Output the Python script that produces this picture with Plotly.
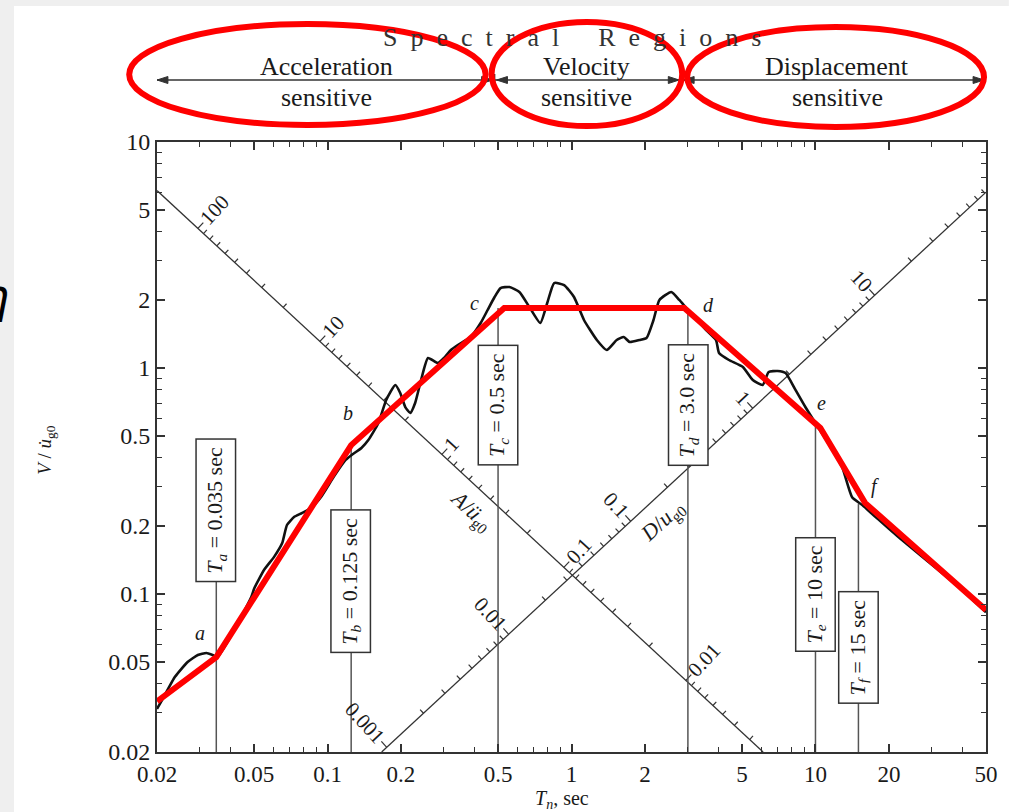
import numpy as np
import plotly.graph_objects as go

# ---------------- data ----------------
T_spec = [0.020, 0.021, 0.0237, 0.0267, 0.0294, 0.0319, 0.0338, 0.0354, 0.0415, 0.0487,
          0.0501, 0.055, 0.0604, 0.0652, 0.0682, 0.0729, 0.0785, 0.0855, 0.0939, 0.106,
          0.1186, 0.1255, 0.1377, 0.147, 0.1616, 0.174, 0.1896, 0.1986, 0.2083, 0.2183,
          0.2286, 0.2418, 0.2582, 0.2836, 0.3027, 0.3204, 0.342, 0.386, 0.4243, 0.4531,
          0.4839, 0.5119, 0.5568, 0.6115, 0.6717, 0.7447, 0.7953, 0.849, 0.9326, 1.024,
          1.125, 1.270, 1.395, 1.532, 1.637, 1.731, 1.901, 2.030, 2.168, 2.293,
          2.565, 2.766, 2.953, 3.563, 3.912, 4.024, 4.418, 5.039, 5.534, 6.077,
          6.43, 6.996, 7.54, 8.28, 9.09, 9.99, 11.28, 12.86, 14.13, 15.51,
          18, 22, 27, 33, 40, 50]
V_spec = [0.031, 0.034, 0.043, 0.050, 0.0537, 0.0548, 0.0537, 0.0526, 0.0693, 0.097,
          0.106, 0.128, 0.146, 0.168, 0.202, 0.219, 0.228, 0.240, 0.268, 0.330,
          0.392, 0.412, 0.443, 0.480, 0.571, 0.722, 0.841, 0.775, 0.672, 0.632,
          0.700, 0.885, 1.107, 1.052, 1.118, 1.201, 1.264, 1.371, 1.581, 1.806,
          2.062, 2.259, 2.282, 2.169, 1.862, 1.581, 1.939, 2.377, 2.329, 2.062,
          1.631, 1.330, 1.201, 1.330, 1.371, 1.303, 1.330, 1.357, 1.631, 2.000,
          2.169, 2.000, 1.843, 1.472, 1.330, 1.165, 1.085, 1.010, 0.885, 0.841,
          0.960, 0.970, 0.950, 0.800, 0.672, 0.571, 0.466, 0.365, 0.268, 0.248,
          0.215, 0.178, 0.148, 0.124, 0.104, 0.083]

T_ideal = [0.02, 0.035, 0.125, 0.53, 2.9, 10.47, 15.96, 50]
V_ideal = [0.0335, 0.0526, 0.456, 1.843, 1.843, 0.543, 0.253, 0.085]

x_ticks = [0.02, 0.05, 0.1, 0.2, 0.5, 1, 2, 5, 10, 20, 50]
x_ticktext = ["0.02", "0.05", "0.1", "0.2", "0.5", "1", "2", "5", "10", "20", "50"]
x_minor = [0.03, 0.04, 0.06, 0.07, 0.08, 0.09, 0.3, 0.4, 0.6, 0.7, 0.8, 0.9,
           3, 4, 6, 7, 8, 9, 30, 40]
y_ticks = [0.02, 0.05, 0.1, 0.2, 0.5, 1, 2, 5, 10]
y_ticktext = ["0.02", "0.05", "0.1", "0.2", "0.5", "1", "2", "5", "10"]
y_minor = [0.03, 0.04, 0.06, 0.07, 0.08, 0.09, 0.3, 0.4, 0.6, 0.7, 0.8, 0.9,
           3, 4, 6, 7, 8, 9]

# characteristic periods
T_marks = [0.035, 0.125, 0.5, 3.0, 10, 15]
T_mark_sub = ["a", "b", "c", "d", "e", "f"]
T_mark_val = ["0.035", "0.125", "0.5", "3.0", "10", "15"]
T_mark_top = [0.2354, 0.44, 1.843, 1.843, 0.55, 0.25]
box_center_V = [0.2354, 0.1142, 0.6823, 0.685, 0.0995, 0.058]

# point letters a..f
letter_T = [0.0299, 0.121, 0.401, 3.63, 10.56, 17.5]
letter_V = [0.0672, 0.632, 1.94, 1.90, 0.70, 0.2976]

# diagonal (tripartite) axes
A_line_T = [0.02, 6.1]
A_line_V = [6.1, 0.02]
D_line_T = [0.1667, 50]
D_line_V = [0.02, 6.0]
A_SCALE = 0.0866   # A/ug0 = A_SCALE / T^2 along the A axis line
D_SCALE = 0.0327   # D/ug0 = D_SCALE * T^2 along the D axis line
A_major = [100, 10, 1, 0.1, 0.01]
A_major_text = ["100", "10", "1", "0.1", "0.01"]
A_minor = [m * d for d in [0.001, 0.01, 0.1, 1, 10] for m in range(2, 10)
           if 0.0029 < m * d < 95]
D_major = [0.001, 0.01, 0.1, 1, 10]
D_major_text = ["0.001", "0.01", "0.1", "1", "10"]
D_minor = [m * d for d in [0.001, 0.01, 0.1, 1, 10] for m in range(2, 10)
           if m * d < 85]
A_title_at = 0.44
D_title_at = 0.14

# ---------------- layout constants ----------------
W, H = 1010, 812
ML, MR, MT, MB = 157, 18, 142, 60
PW, PH = W - ML - MR, H - MT - MB
XR = [np.log10(0.02), np.log10(50)]
YR = [np.log10(0.02), np.log10(10)]
PX_X = PW / (XR[1] - XR[0])
PX_Y = PH / (YR[1] - YR[0])
SERIF = "Liberation Serif, Times New Roman, serif"
INK = "#1a1a1a"


def px(xp):
    return (xp - ML) / PW


def py(yp):
    return (H - MB - yp) / PH


fig = go.Figure()

# --- diagonal axes lines ---
fig.add_trace(go.Scatter(x=A_line_T, y=A_line_V, mode="lines",
                         line=dict(color="#333", width=1.3), hoverinfo="skip"))
fig.add_trace(go.Scatter(x=D_line_T, y=D_line_V, mode="lines",
                         line=dict(color="#333", width=1.3), hoverinfo="skip"))

kA = A_line_T[0] * A_line_V[0]
kD = D_line_V[1] / D_line_T[1]
nrm = np.hypot(PX_X, PX_Y)
uA = (PX_Y / nrm, PX_X / nrm)      # up-right perpendicular (pixel, y up)
uD = (-PX_Y / nrm, PX_X / nrm)     # up-left perpendicular


def a_pos(A):
    T = np.sqrt(A_SCALE / A)
    return np.log10(T), np.log10(kA / T)


def d_pos(D):
    T = np.sqrt(D / D_SCALE)
    return np.log10(T), np.log10(kD * T)


def tick_segments(vals, posf, u, L):
    xs, ys = [], []
    for v in vals:
        lx, ly = posf(v)
        xs += [10 ** lx, 10 ** (lx + L * u[0] / PX_X), None]
        ys += [10 ** ly, 10 ** (ly + L * u[1] / PX_Y), None]
    return xs, ys


for vals, posf, u, L in [(A_minor, a_pos, uA, 5), (A_major, a_pos, uA, 8),
                         (D_minor, d_pos, uD, 5), (D_major, d_pos, uD, 8)]:
    xs, ys = tick_segments(vals, posf, u, L)
    fig.add_trace(go.Scatter(x=xs, y=ys, mode="lines",
                             line=dict(color="#333", width=1.2), hoverinfo="skip"))

ang = np.degrees(np.arctan2(PX_Y, PX_X))
annotations = []
FS_DIAG = 21
for vals, texts, posf, u, ta in [(A_major, A_major_text, a_pos, uA, -(90 - ang)),
                                 (D_major, D_major_text, d_pos, uD, (90 - ang))]:
    for v, t in zip(vals, texts):
        lx, ly = posf(v)
        em = sum(0.25 if c == "." else 0.5 for c in t)
        off = 9 + 0.5 * em * FS_DIAG
        annotations.append(dict(x=lx + off * u[0] / PX_X, y=ly + off * u[1] / PX_Y,
                                xref="x", yref="y", text=t, showarrow=False,
                                xanchor="center", yanchor="middle",
                                textangle=ta, font=dict(family=SERIF, size=FS_DIAG, color=INK)))

# axis titles of diagonal axes
lx, ly = a_pos(A_title_at)
annotations.append(dict(x=lx - 22 * uA[0] / PX_X, y=ly - 22 * uA[1] / PX_Y, xref="x", yref="y",
                        text="<i>A</i>/<i>ü</i><sub>g0</sub>", showarrow=False, textangle=ang,
                        xanchor="center", yanchor="middle",
                        font=dict(family=SERIF, size=22, color=INK)))
lx, ly = d_pos(D_title_at)
annotations.append(dict(x=lx - 22 * uD[0] / PX_X, y=ly - 22 * uD[1] / PX_Y, xref="x", yref="y",
                        text="<i>D</i>/<i>u</i><sub>g0</sub>", showarrow=False, textangle=-ang,
                        xanchor="center", yanchor="middle",
                        font=dict(family=SERIF, size=22, color=INK)))

# --- vertical period lines ---
xs, ys = [], []
for T, top in zip(T_marks, T_mark_top):
    xs += [T, T, None]
    ys += [0.02, top, None]
fig.add_trace(go.Scatter(x=xs, y=ys, mode="lines", line=dict(color="#555", width=1.5),
                         hoverinfo="skip"))

# --- spectrum and idealized spectrum ---
fig.add_trace(go.Scatter(x=T_spec, y=V_spec, mode="lines",
                         line=dict(color="#111", width=2.6, shape="spline", smoothing=0.5),
                         hoverinfo="skip"))
fig.add_trace(go.Scatter(x=T_ideal, y=V_ideal, mode="lines",
                         line=dict(color="#ff0000", width=6), hoverinfo="skip"))

# --- boxes with period labels ---
for T, sub, val, vc in zip(T_marks, T_mark_sub, T_mark_val, box_center_V):
    annotations.append(dict(x=np.log10(T), y=np.log10(vc), xref="x", yref="y",
                            text=f"<i>T<sub>{sub}</sub></i> = {val} sec", showarrow=False,
                            xanchor="center", yanchor="middle",
                            textangle=-90, bgcolor="white", bordercolor="#333",
                            borderwidth=1.5, borderpad=7, height=24,
                            font=dict(family=SERIF, size=22, color=INK)))

for lt, lv, s in zip(letter_T, letter_V, T_mark_sub):
    annotations.append(dict(x=np.log10(lt), y=np.log10(lv), xref="x", yref="y",
                            text=f"<i>{s}</i>", showarrow=False,
                            xanchor="center", yanchor="middle",
                            font=dict(family=SERIF, size=20, color=INK)))

# --- axis titles ---
annotations.append(dict(x=px(45), y=py(450), xref="paper", yref="paper",
                        text="<i>V</i> / <i>u\u0307</i><sub>g0</sub>", showarrow=False,
                        xanchor="center", yanchor="middle",
                        textangle=-90, font=dict(family=SERIF, size=19, color=INK)))
annotations.append(dict(x=px(565), y=py(799), xref="paper", yref="paper",
                        text="<i>T<sub>n</sub></i>, sec", showarrow=False,
                        xanchor="center", yanchor="middle",
                        font=dict(family=SERIF, size=20, color=INK)))

# --- spectral regions header ---
nb = "\u00a0"
sr = (nb * 2).join("Spectral") + nb * 6 + (nb * 2).join("Regions")
annotations.append(dict(x=px(575), y=py(38), xref="paper", yref="paper", text=sr,
                        xanchor="center", yanchor="middle",
                        showarrow=False, font=dict(family=SERIF, size=26, color="#333")))
for cx, word in [(328, "Acceleration"), (590, "Velocity"), (842, "Displacement")]:
    annotations.append(dict(x=px(cx), y=py(66), xref="paper", yref="paper", text=word,
                            xanchor="center", yanchor="middle",
                            showarrow=False, font=dict(family=SERIF, size=26, color=INK)))
    annotations.append(dict(x=px(cx), y=py(97), xref="paper", yref="paper", text="sensitive",
                            xanchor="center", yanchor="middle",
                            showarrow=False, font=dict(family=SERIF, size=26, color=INK)))

# page fragment glyph on the left edge
annotations.append(dict(x=px(10), y=py(296), xref="paper", yref="paper", text="<i>η</i>",
                        xanchor="right", yanchor="middle", showarrow=False,
                        font=dict(family="DejaVu Sans", size=46, color="#000")))

ARROW_Y = 80


def arrow_head(tip_x, direction):
    bx = tip_x - direction * 11
    return dict(type="path", xref="paper", yref="paper",
                path=(f"M {px(tip_x)},{py(ARROW_Y)} L {px(bx)},{py(ARROW_Y - 3.5)} "
                      f"L {px(bx)},{py(ARROW_Y + 3.5)} Z"),
                fillcolor="#333", line=dict(color="#333", width=1))


shapes = [
    dict(type="rect", xref="paper", yref="paper", x0=px(-5), x1=px(13), y0=py(820), y1=py(-5),
         fillcolor="#efefef", line=dict(width=0), layer="below"),
    dict(type="rect", xref="paper", yref="paper", x0=px(-5), x1=px(1015), y0=py(6), y1=py(-5),
         fillcolor="#efefef", line=dict(width=0), layer="below"),
    dict(type="line", xref="paper", yref="paper", x0=px(157), x1=px(990),
         y0=py(ARROW_Y), y1=py(ARROW_Y), line=dict(color="#333", width=1.6)),
    dict(type="line", xref="paper", yref="paper", x0=px(497), x1=px(497),
         y0=py(ARROW_Y - 6), y1=py(ARROW_Y + 6), line=dict(color="#333", width=1.6)),
    dict(type="line", xref="paper", yref="paper", x0=px(685), x1=px(685),
         y0=py(ARROW_Y - 6), y1=py(ARROW_Y + 6), line=dict(color="#333", width=1.6)),
    arrow_head(157, -1), arrow_head(495, 1), arrow_head(499, -1),
    arrow_head(683, 1), arrow_head(687, -1), arrow_head(990, 1),
    dict(type="circle", xref="paper", yref="paper", x0=px(129), x1=px(488), y0=py(125), y1=py(24),
         line=dict(color="#ff0000", width=6)),
    dict(type="circle", xref="paper", yref="paper", x0=px(494), x1=px(686), y0=py(126), y1=py(22),
         line=dict(color="#ff0000", width=6)),
    dict(type="circle", xref="paper", yref="paper", x0=px(691), x1=px(990), y0=py(127), y1=py(27),
         line=dict(color="#ff0000", width=6)),
]

axis_common = dict(type="log", showgrid=False, zeroline=False, showline=True,
                   linecolor="#333", linewidth=2, mirror="ticks", ticks="inside",
                   ticklen=8, tickwidth=1.5, tickcolor="#333")

fig.update_layout(
    width=W, height=H, margin=dict(l=ML, r=MR, t=MT, b=MB),
    paper_bgcolor="white", plot_bgcolor="white", showlegend=False,
    xaxis=dict(range=XR, tickmode="array", tickvals=x_ticks, ticktext=x_ticktext,
               tickfont=dict(family=SERIF, size=23, color=INK),
               minor=dict(tickmode="array", tickvals=x_minor, ticks="inside", ticklen=5,
                          tickwidth=1.2, tickcolor="#333"),
               **axis_common),
    yaxis=dict(range=YR, tickmode="array", tickvals=y_ticks, ticktext=y_ticktext,
               tickfont=dict(family=SERIF, size=24, color=INK),
               minor=dict(tickmode="array", tickvals=y_minor, ticks="inside", ticklen=5,
                          tickwidth=1.2, tickcolor="#333"),
               **axis_common),
    annotations=annotations, shapes=shapes,
)

fig.write_html("out.html")
